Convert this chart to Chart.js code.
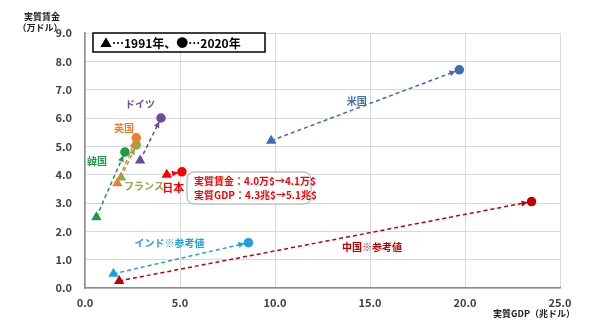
<!DOCTYPE html>
<html>
<head>
<meta charset="utf-8">
<script src="https://cdn.jsdelivr.net/npm/chart.js@4"></script>
<style>
  html, body { margin: 0; padding: 0; background: #fff; }
  #wrap { width: 590px; height: 325px; position: relative; }
</style>
</head>
<body>
<div id="wrap"><canvas id="c"></canvas></div>
<script>
// 実質GDP（兆ドル）と実質賃金（万ドル）: 1991年 → 2020年
const countries = ['米国', 'ドイツ', '英国', 'フランス', '韓国', '日本', 'インド※参考値', '中国※参考値'];
const gdp1991 = [9.8, 2.9, 1.7, 1.9, 0.6, 4.3, 1.5, 1.8];
const gdp2020 = [19.7, 4.0, 2.7, 2.7, 2.1, 5.1, 8.6, 23.5];
const wage1991 = [5.2, 4.5, 3.7, 3.9, 2.5, 4.0, 0.5, 0.25];
const wage2020 = [7.7, 6.0, 5.3, 5.05, 4.8, 4.1, 1.6, 3.05];
const xTicks = [0, 5, 10, 15, 20, 25];
const yTicks = [0, 1, 2, 3, 4, 5, 6, 7, 8, 9];

const colors = ['#3e6db5', '#6a4c9c', '#ed7d31', '#8cab4a', '#1e9a48', '#ff0000', '#1e9fe0', '#c00000'];
// label anchors (data units)
const labelAt = [[14.3, 6.6], [2.9, 6.5], [2.05, 5.65], [3.1, 3.58], [0.63, 4.46], [4.65, 3.54], [4.45, 1.58], [15.1, 1.43]];

const JP = '"Noto Sans CJK JP", "Noto Sans", sans-serif';

const datasets = countries.map((name, i) => ({
    label: name,
    data: [{ x: gdp1991[i], y: wage1991[i] }, { x: gdp2020[i], y: wage2020[i] }],
    showLine: true,
    borderColor: colors[i],
    backgroundColor: colors[i],
    borderWidth: 1.5,
    borderDash: [4, 3],
    pointStyle: ['triangle', 'circle'],
    pointRadius: [4.5, 4],
    pointHoverRadius: [4.5, 4]
}));

const overlay = {
    id: 'overlay',
    afterDatasetsDraw(chart) {
        const ctx = chart.ctx;
        const xs = chart.scales.x, ys = chart.scales.y;
        ctx.save();
        // arrow heads
        chart.data.datasets.forEach((ds, i) => {
            const pts = chart.getDatasetMeta(i).data;
            const a = pts[0], b = pts[1];
            const ang = Math.atan2(b.y - a.y, b.x - a.x);
            const tipX = b.x - Math.cos(ang) * 4, tipY = b.y - Math.sin(ang) * 4;
            const len = 6, w = 3;
            ctx.fillStyle = colors[i];
            ctx.beginPath();
            ctx.moveTo(tipX, tipY);
            ctx.lineTo(tipX - Math.cos(ang) * len - Math.sin(ang) * w, tipY - Math.sin(ang) * len + Math.cos(ang) * w);
            ctx.lineTo(tipX - Math.cos(ang) * len + Math.sin(ang) * w, tipY - Math.sin(ang) * len - Math.cos(ang) * w);
            ctx.closePath();
            ctx.fill();
        });
        // country labels
        ctx.textAlign = 'center';
        ctx.textBaseline = 'middle';
        countries.forEach((name, i) => {
            ctx.fillStyle = colors[i];
            ctx.font = (i === 5 ? 'bold 11px ' : 'bold 10px ') + JP;
            ctx.fillText(name, xs.getPixelForValue(labelAt[i][0]), ys.getPixelForValue(labelAt[i][1]));
        });
        // Japan note box
        const bx = 187, by = 172, bw = 124, bh = 32;
        ctx.strokeStyle = '#8fa3c4';
        ctx.lineWidth = 1;
        ctx.fillStyle = '#fff';
        ctx.beginPath();
        ctx.roundRect(bx, by, bw, bh, 7);
        ctx.fill();
        ctx.stroke();
        ctx.fillStyle = '#ff0000';
        ctx.font = 'bold 10px ' + JP;
        ctx.textAlign = 'left';
        ctx.fillText('実質賃金：4.0万$→4.1万$', bx + 7, by + 9);
        ctx.fillText('実質GDP：4.3兆$→5.1兆$', bx + 7, by + 23);
        // legend box
        ctx.fillStyle = '#fff';
        ctx.fillRect(93, 33, 172, 19);
        ctx.strokeStyle = '#000';
        ctx.lineWidth = 1.5;
        ctx.strokeRect(93, 33, 172, 19);
        ctx.fillStyle = '#000';
        ctx.font = 'bold 12px ' + JP;
        ctx.fillText('▲…1991年、●…2020年', 100, 43);
        // axis titles
        ctx.fillStyle = '#222';
        ctx.font = 'bold 9px ' + JP;
        ctx.textAlign = 'center';
        ctx.fillText('実質賃金', 42, 17);
        ctx.fillText('（万ドル）', 40, 28);
        ctx.textAlign = 'left';
        ctx.fillText('実質GDP（兆ドル）', 493, 314);
        ctx.restore();
    }
};

new Chart(document.getElementById('c'), {
    type: 'scatter',
    data: { datasets },
    options: {
        responsive: true,
        maintainAspectRatio: false,
        animation: false,
        layout: { padding: { top: 33, right: 30, left: 0, bottom: 0 } },
        plugins: { legend: { display: false }, tooltip: { enabled: false } },
        scales: {
            x: {
                type: 'linear',
                min: 0, max: 25,
                afterBuildTicks(scale) { scale.ticks = xTicks.map(v => ({ value: v })); },
                afterFit(scale) { scale.height = 37; },
                grid: { color: '#d9d9d9', drawTicks: false },
                border: { color: '#8c8c8c', width: 1.5 },
                ticks: { padding: 8, color: '#404040', font: { family: JP, size: 11, weight: 'bold' }, callback: v => v.toFixed(1) }
            },
            y: {
                type: 'linear',
                min: 0, max: 9,
                afterBuildTicks(scale) { scale.ticks = yTicks.map(v => ({ value: v })); },
                afterFit(scale) { scale.width = 85; },
                grid: { color: '#d9d9d9', drawTicks: false },
                border: { color: '#8c8c8c', width: 1.5 },
                ticks: { padding: 13, color: '#404040', font: { family: JP, size: 11, weight: 'bold' }, callback: v => v.toFixed(1) }
            }
        }
    },
    plugins: [overlay]
});
</script>
</body>
</html>
